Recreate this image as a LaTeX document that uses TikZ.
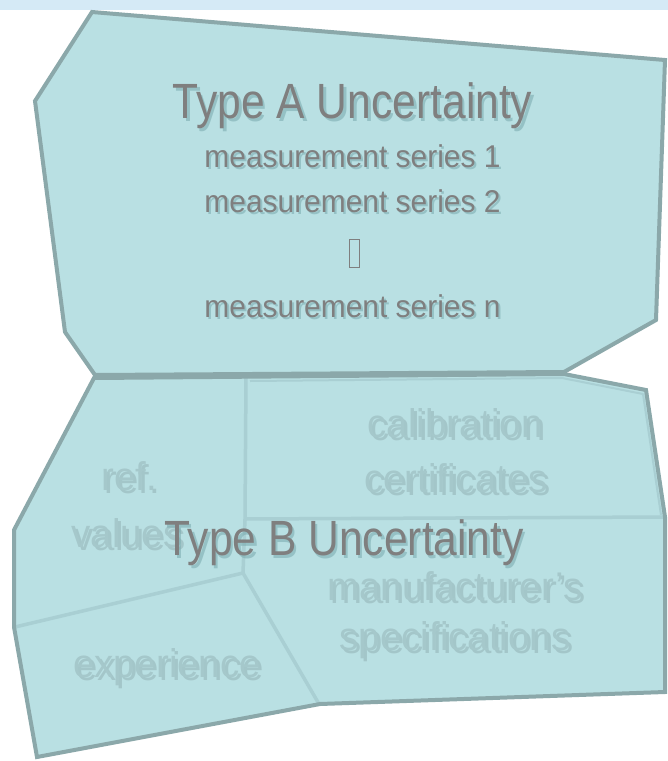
\documentclass[tikz,border=0pt]{standalone}
\usepackage{fontspec}
\setmainfont{Liberation Sans}
\newfontfamily\titlefont[FakeStretch=0.86]{Liberation Sans}
\newfontfamily\subfont[FakeStretch=0.95]{Liberation Sans}
\newfontfamily\fadefont[FakeStretch=0.96]{Liberation Sans}
\definecolor{bandblue}{HTML}{D5EAF6}
\definecolor{fillteal}{HTML}{B9E0E3}
\definecolor{edgegray}{HTML}{8BA8AA}
\definecolor{innerline}{HTML}{A9CFD3}
\definecolor{maintext}{HTML}{7F7F7F}
\definecolor{mainshadow}{HTML}{78A9AD}
\definecolor{fadetext}{HTML}{A5C8CB}
\definecolor{fadeshadow}{HTML}{9BBCBF}
\begin{document}
\begin{tikzpicture}[x=1pt,y=-1pt,
  outerfill/.style={fill=fillteal},
  outeredge/.style={draw=edgegray, line width=4pt, line join=miter},
  innerpart/.style={draw=innerline, line width=3.5pt, line join=round},
  txt/.style={anchor=base, inner sep=0pt, outer sep=0pt},
  titletxt/.style={txt, text=maintext, font=\titlefont\fontsize{49.5}{54}\selectfont},
  titleshadow/.style={txt, text=mainshadow, opacity=0.55, font=\titlefont\fontsize{49.5}{54}\selectfont},
  subtxt/.style={txt, text=maintext, font=\subfont\fontsize{31.5}{35}\selectfont},
  subshadow/.style={txt, text=mainshadow, opacity=0.55, font=\subfont\fontsize{31.5}{35}\selectfont},
  fadetxt/.style={txt, text=fadetext, font=\fadefont\fontsize{40}{44}\selectfont},
  fadeshd/.style={txt, text=fadeshadow, opacity=0.7, font=\fadefont\fontsize{40}{44}\selectfont},
  glyphbox/.style={draw=maintext, line width=0.8pt, minimum width=10pt, minimum height=28pt, inner sep=0pt}
]
\useasboundingbox (0,0) rectangle (668,761);
\fill[bandblue] (0,0) rectangle (668,10);

% ---------- Type A region ----------
\coordinate (a1) at (92,12);
\coordinate (a2) at (665,60);
\coordinate (a3) at (656,320);
\coordinate (a4) at (564,372);
\coordinate (a5) at (95,375);
\coordinate (a6) at (65,332);
\coordinate (a7) at (35,101);
\path[outerfill] (a1) -- (a2) -- (a3) -- (a4) -- (a5) -- (a6) -- (a7) -- cycle;
\draw[outeredge] (a1) -- (a2) -- (a3) -- (a4) -- (a5) -- (a6) -- (a7) -- cycle;

% ---------- Type B region ----------
\coordinate (b1) at (94,378);
\coordinate (b2) at (564,374);
\coordinate (b3) at (646,390);
\coordinate (b4) at (665,517);
\coordinate (b5) at (665,692);
\coordinate (b6) at (320,704);
\coordinate (b7) at (37,757);
\coordinate (b8) at (14,627);
\coordinate (b9) at (14,530);
\path[outerfill] (b1) -- (b2) -- (b3) -- (b4) -- (b5) -- (b6) -- (b7) -- (b8) -- (b9) -- cycle;

% inner partition lines
\coordinate (p1) at (246,378);
\coordinate (p2) at (245,519);
\coordinate (p3) at (663,517);
\coordinate (p4) at (243,573);
\coordinate (p5) at (15,627);
\coordinate (p6) at (319,704);
\draw[innerpart] (p1) -- (p2) -- (p4);
\draw[innerpart] (p2) -- (p3);
\draw[innerpart] (p5) -- (p4) -- (p6);
\draw[innerpart, line width=2pt] (250,381) -- (562,378) -- (643,394) -- (661,515);

\draw[outeredge] (b1) -- (b2) -- (b3) -- (b4) -- (b5) -- (b6) -- (b7) -- (b8) -- (b9) -- cycle;

% ---------- faded labels (Type B sources) ----------
\node[fadeshd] (calS) at (458,440) {calibration};
\node[fadetxt] (cal) at (455,437) {calibration};
\node[fadeshd] (certS) at (459,495) {certificates};
\node[fadetxt] (cert) at (456,492) {certificates};
\node[fadeshd] (refS) at (132,493) {ref.};
\node[fadetxt] (ref) at (129,490) {ref.};
\node[fadeshd] (valS) at (130,550) {values};
\node[fadetxt] (val) at (127,547) {values};
\node[fadeshd] (manS) at (458,603) {manufacturer’s};
\node[fadetxt] (man) at (455,600) {manufacturer’s};
\node[fadeshd] (specS) at (458,653) {specifications};
\node[fadetxt] (spec) at (455,650) {specifications};
\node[fadeshd] (expS) at (170,680) {experience};
\node[fadetxt] (exp) at (167,677) {experience};

% ---------- Type A texts ----------
\node[titleshadow] (tAs) at (355,121) {Type A Uncertainty};
\node[titletxt] (tA) at (352.5,118) {Type A Uncertainty};
\node[subshadow] (m1s) at (354.5,169.5) {measurement series 1};
\node[subtxt] (m1) at (352.5,167) {measurement series 1};
\node[subshadow] (m2s) at (354.5,214.5) {measurement series 2};
\node[subtxt] (m2) at (352.5,212) {measurement series 2};
\node[glyphbox] (dots) at (354.5,253.5) {};
\node[subshadow] (mns) at (354.5,319.5) {measurement series n};
\node[subtxt] (mn) at (352.5,317) {measurement series n};

% ---------- Type B title ----------
\node[titleshadow] (tBs) at (346.5,558) {Type B Uncertainty};
\node[titletxt] (tB) at (344,555) {Type B Uncertainty};
\end{tikzpicture}
\end{document}
